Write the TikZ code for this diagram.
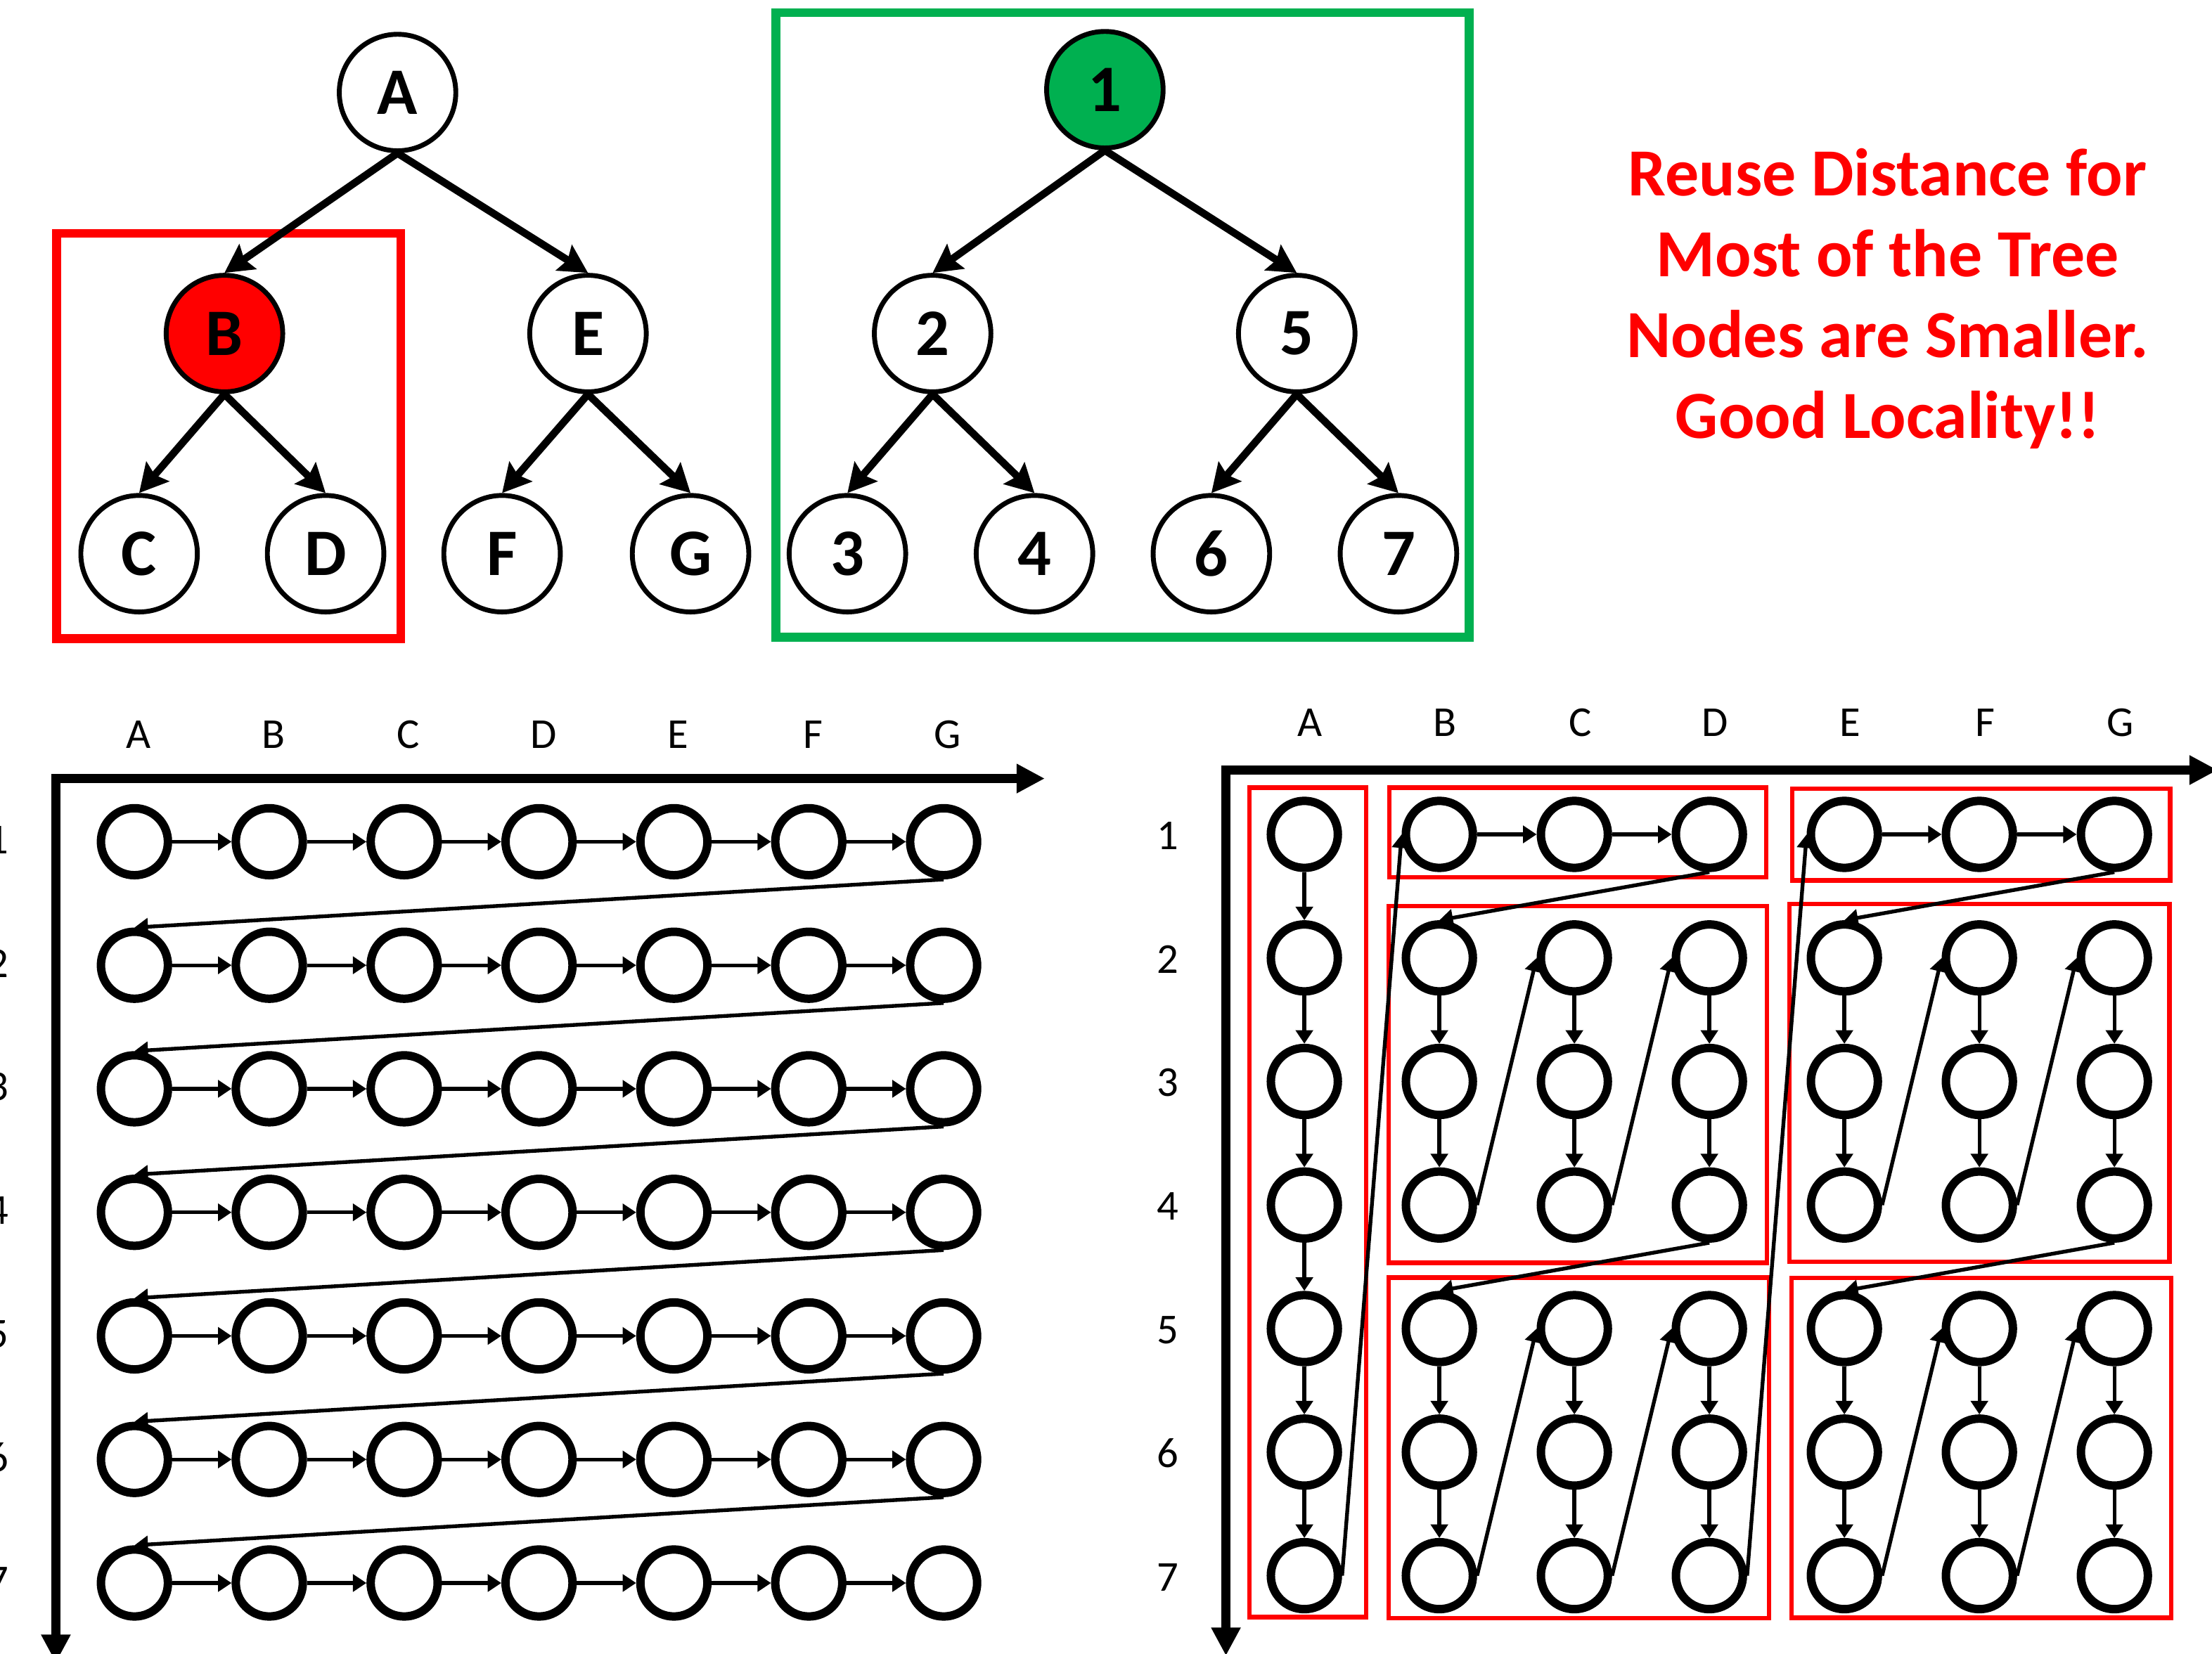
\documentclass[tikz,border=0pt]{standalone}
\usepackage{fontspec}
\setmainfont{Carlito}
\usetikzlibrary{arrows.meta}

\definecolor{tilegreen}{RGB}{0,176,80}

\tikzset{
	treenode/.style={circle, draw, line width=4.9pt, minimum size=41.3mm, inner sep=0pt,
		font=\fontsize{67}{67}\selectfont\bfseries},
	treeedge/.style={line width=7.5pt, -{Stealth[length=10mm, width=10.5mm, inset=1.5mm]}},
	note/.style={anchor=base, text=red, font=\fontsize{68}{68}\selectfont\bfseries},
	cell/.style={circle, draw, line width=8.5pt, minimum size=23.75mm, inner sep=0pt},
	cellarrow/.style={line width=3.8pt, -{Triangle[length=4.8mm, width=6mm]}},
	axisline/.style={line width=9.2pt, {Triangle[length=10mm, width=9.8mm]}-{Triangle[length=10mm, width=9.8mm]}},
	gridlabel/.style={anchor=base, font=\fontsize{43}{43}\selectfont},
	tile/.style={draw=red, line width=4.5pt},
}

\begin{document}
\begin{tikzpicture}[x=0.5mm, y=-0.5mm]
	\useasboundingbox (0,0) rectangle (1568,1172.75);

	% albero A-G
	\draw[red, line width=9pt] (40,165.5) rectangle (284.1,452.9);
	\node[treenode] (a) at (281.8,65.6) {A};
	\node[treenode, fill=red] (b) at (159.1,236.5) {B};
	\node[treenode] (e) at (416.8,236.5) {E};
	\node[treenode] (c) at (98.6,392.6) {C};
	\node[treenode] (d) at (230.8,392.6) {D};
	\node[treenode] (f) at (355.9,392.6) {F};
	\node[treenode] (g) at (489.5,392.6) {G};

	% albero 1-7
	\draw[tilegreen, line width=9pt] (550.1,8.9) rectangle (1041.3,451.7);
	\node[treenode, fill=tilegreen] (n1) at (783.2,63.6) {1};
	\node[treenode] (n2) at (661.1,236.5) {2};
	\node[treenode] (n5) at (919.2,236.5) {5};
	\node[treenode] (n3) at (600.7,392.6) {3};
	\node[treenode] (n4) at (733.3,392.6) {4};
	\node[treenode] (n6) at (858.7,392.6) {6};
	\node[treenode] (n7) at (991.3,392.6) {7};

	\foreach \p/\q in {a/b,a/e,b/c,b/d,e/f,e/g,n1/n2,n1/n5,n2/n3,n2/n4,n5/n6,n5/n7}
	\draw[treeedge] (\p.south) -- (\q.north);

	% testo
	\foreach \t [count=\k] in {Reuse Distance for, Most of the Tree, Nodes are Smaller., Good Locality!!}
	\node[note] (note\k) at (1338,81.4+57.3*\k) {\t};

	% griglia per righe
	\foreach \i [count=\ci] in {A,...,G}
	\node[gridlabel] (lcol\ci) at (2.7+95.6*\ci,530.4) {\i};
	\foreach \j in {1,...,7}
	\node[gridlabel] (lrow\j) at (-1.8,517.6+87.6*\j) {\j};
	\foreach \i in {1,...,7}
	\foreach \j in {1,...,7}
	\node[cell] (l-\i-\j) at (-0.3+95.6*\i,509.2+87.6*\j) {};

	\foreach \j in {1,...,7} {
		\foreach \i in {1,...,6} {
			\pgfmathtruncatemacro\nx{\i+1}
			\draw[cellarrow] (l-\i-\j) -- (l-\nx-\j);
		}
	}
	\foreach \j in {1,...,6} {
		\pgfmathtruncatemacro\ny{\j+1}
		\draw[cellarrow] (l-7-\j.south) -- (l-1-\ny.north);
	}

	\coordinate (lo) at (39.6,552);
	\coordinate (lx) at (740.6,552);
	\coordinate (ly) at (39.6,1179);
	\draw[axisline] (ly) -- (lo) -- (lx);

	% griglia a blocchi
	\draw[tile] (885.7,558.5) rectangle (968.5,1146.5);
	\draw[tile] (985,558.5) rectangle (1252,622);
	\draw[tile] (1270.4,559.2) rectangle (1538.3,624.2);
	\draw[tile] (984.5,642.4) rectangle (1252.6,895.4);
	\draw[tile] (1268.4,641) rectangle (1537.8,894.5);
	\draw[tile] (984.3,905.8) rectangle (1254,1147.3);
	\draw[tile] (1270,906) rectangle (1539,1147);

	\foreach \i [count=\ci] in {A,...,G}
	\node[gridlabel] (rcol\ci) at (832.9+95.7*\ci,522.2) {\i};
	\foreach \j in {1,...,7}
	\node[gridlabel] (rrow\j) at (827.6,514.7+87.6*\j) {\j};
	\foreach \i in {1,...,7}
	\foreach \j in {1,...,7}
	\node[cell] (r-\i-\j) at (828.9+95.7*\i,504+87.6*\j) {};

	% colonna A
	\foreach \j in {1,...,6} {
		\pgfmathtruncatemacro\ny{\j+1}
		\draw[cellarrow] (r-1-\j) -- (r-1-\ny);
	}
	% riga 1 dei blocchi
	\foreach \bc in {2,5} {
		\pgfmathtruncatemacro\cm{\bc+1}
		\pgfmathtruncatemacro\cn{\bc+2}
		\draw[cellarrow] (r-\bc-1) -- (r-\cm-1);
		\draw[cellarrow] (r-\cm-1) -- (r-\cn-1);
	}
	% blocchi 3x3, per colonne
	\foreach \bc/\br in {2/2,2/5,5/2,5/5} {
		\pgfmathtruncatemacro\rb{\br+1}
		\pgfmathtruncatemacro\rc{\br+2}
		\foreach \m in {0,1,2} {
			\pgfmathtruncatemacro\cm{\bc+\m}
			\draw[cellarrow] (r-\cm-\br) -- (r-\cm-\rb);
			\draw[cellarrow] (r-\cm-\rb) -- (r-\cm-\rc);
		}
		\foreach \m in {0,1} {
			\pgfmathtruncatemacro\cm{\bc+\m}
			\pgfmathtruncatemacro\cn{\bc+\m+1}
			\draw[cellarrow] (r-\cm-\rc.east) -- (r-\cn-\br.west);
		}
	}
	% salti tra blocchi
	\foreach \p/\q in {r-1-7.east/r-2-1.west, r-4-1.south/r-2-2.north, r-4-4.south/r-2-5.north,
		r-4-7.east/r-5-1.west, r-7-1.south/r-5-2.north, r-7-4.south/r-5-5.north}
	\draw[cellarrow] (\p) -- (\q);

	\coordinate (ro) at (869,546);
	\coordinate (rx) at (1572,546);
	\coordinate (ry) at (869,1174);
	\draw[axisline] (ry) -- (ro) -- (rx);

\end{tikzpicture}
\end{document}
